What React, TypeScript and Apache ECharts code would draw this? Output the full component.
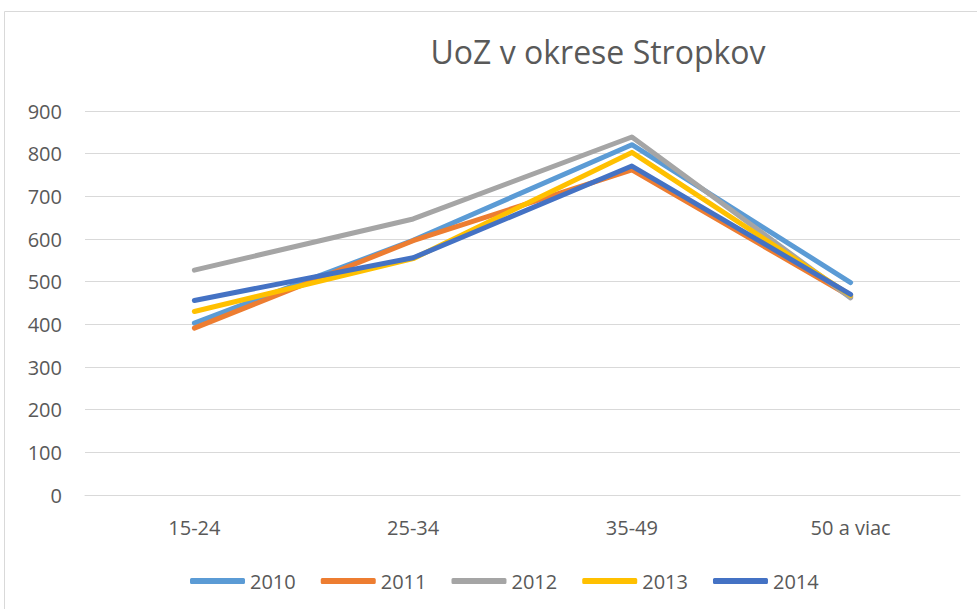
import React, { useEffect, useRef } from "react";
import * as echarts from "echarts";

const categories = ["15-24", "25-34", "35-49", "50 a viac"];
const seriesNames = ["2010", "2011", "2012", "2013", "2014"];
const values2010 = [403, 597, 821, 498];
const values2011 = [391, 596, 762, 465];
const values2012 = [527, 647, 839, 462];
const values2013 = [430, 554, 803, 468];
const values2014 = [456, 556, 771, 470];
const yTicks = { min: 0, max: 900, interval: 100 };
const colors = ["#5B9BD5", "#ED7D31", "#A5A5A5", "#FFC000", "#4472C4"];

const allValues = [values2010, values2011, values2012, values2013, values2014];

export default function App() {
  const ref = useRef<HTMLDivElement>(null);
  useEffect(() => {
    if (!ref.current) return;
    const chart = echarts.init(ref.current, undefined, { renderer: "svg" });
    const font = "'Open Sans', sans-serif";
    chart.setOption({
      animation: false,
      backgroundColor: "#ffffff",
      title: {
        text: "UoZ v okrese Stropkov",
        left: 593,
        textAlign: "center",
        top: 30,
        textStyle: { fontFamily: font, fontSize: 32, fontWeight: "normal", color: "#595959" },
      },
      graphic: [
        {
          type: "rect",
          shape: { x: 4.5, y: 11.5, width: 1000, height: 700 },
          style: { fill: "none", stroke: "#d9d9d9", lineWidth: 1 },
          silent: true,
        },
      ],
      grid: { left: 85, right: 17, top: 111, bottom: 114, containLabel: false },
      legend: {
        data: seriesNames,
        left: 185,
        top: 566,
        icon: "roundRect",
        itemWidth: 55,
        itemHeight: 6,
        itemGap: 25,
        textStyle: { fontFamily: font, fontSize: 20, color: "#595959" },
      },
      xAxis: {
        type: "category",
        data: categories,
        boundaryGap: true,
        axisLine: { lineStyle: { color: "#d9d9d9", width: 1 } },
        axisTick: { show: false },
        axisLabel: { margin: 22, fontFamily: font, fontSize: 20, color: "#595959" },
      },
      yAxis: {
        type: "value",
        min: yTicks.min,
        max: yTicks.max,
        interval: yTicks.interval,
        axisLine: { show: false },
        axisTick: { show: false },
        splitLine: { lineStyle: { color: "#d9d9d9", width: 1 } },
        axisLabel: { margin: 23, fontFamily: font, fontSize: 20, color: "#595959" },
      },
      series: seriesNames.map((name, i) => ({
        name,
        type: "line",
        data: allValues[i],
        showSymbol: false,
        symbol: "none",
        color: colors[i],
        lineStyle: { color: colors[i], width: 5, cap: "round", join: "round" },
        z: 2 + i,
      })),
    });
    return () => chart.dispose();
  }, []);
  return (
    <div
      ref={ref}
      style={{ position: "absolute", left: 0, top: 0, width: 977, height: 609 }}
    />
  );
}
